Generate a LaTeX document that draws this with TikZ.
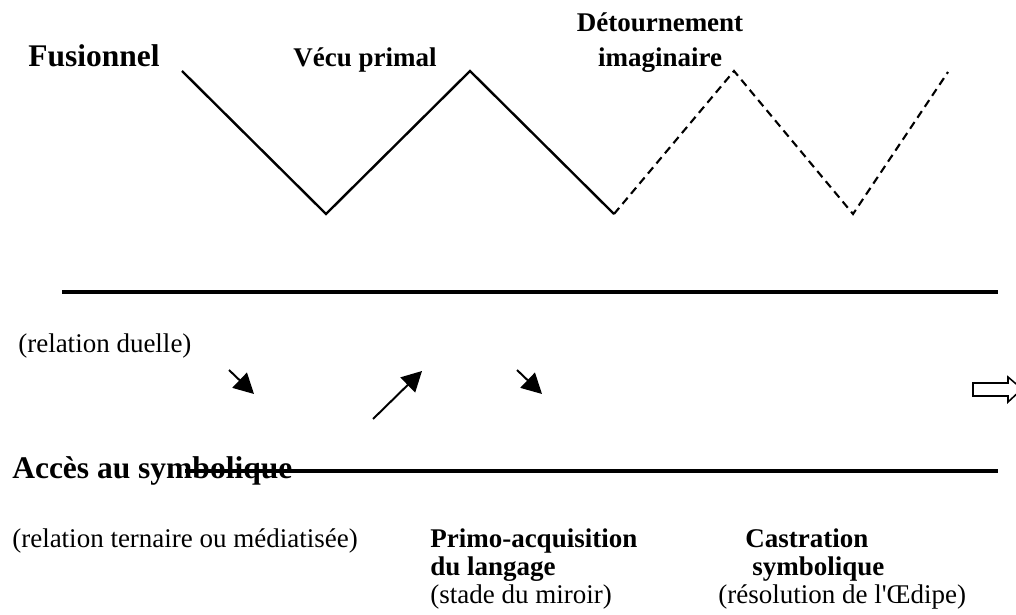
\documentclass[tikz,border=0pt]{standalone}
\usepackage{fontspec}
\setmainfont{Liberation Serif}
\usetikzlibrary{arrows.meta}

\tikzset{
    label/.style={anchor=base west,inner sep=0,font=\fontsize{19.2}{23}\selectfont},
    boldlabel/.style={label,font=\fontsize{19.2}{23}\selectfont\bfseries},
    title/.style={label,font=\fontsize{22.4}{27}\selectfont\bfseries},
    pointer/.style={line width=1.4pt,-{Triangle[length=0.5cm,width=0.52cm]}},
}

\begin{document}
\begin{tikzpicture}[x=0.025cm,y=-0.025cm]
\useasboundingbox (0,0) rectangle (1016,615);

%zigzag
\draw[line width=1.7pt] (182,71) -- (326,214) -- (470,71) -- (614,214);
\draw[line width=1.5pt,dash pattern=on 0.2cm off 0.13cm] (614,214) -- (734,71) -- (853,214) -- (948,72);

%levels
\draw[line width=2.7pt] (62,292) -- (998,292);

%top labels
\node[title] at (28,67)(fusion){Fusionnel};
\node[boldlabel] at (293,67)(vecu){Vécu primal};
\node[boldlabel,anchor=base] at (660,32)(detour){Détournement};
\node[boldlabel,anchor=base] at (660,67)(imag){imaginaire};

\node[label] at (18,353)(duelle){(relation duelle)};

%arrows
\foreach \n/\xa/\ya/\xb/\yb in {1/229/370/254/394,2/373/419/422/371,3/517/370/542/394}{
    \coordinate (s\n) at (\xa,\ya);
    \coordinate (e\n) at (\xb,\yb);
    \draw[pointer] (s\n) -- (e\n);
}
\draw[line width=1.1pt,fill=white] (973,383) -- (1008,383) -- (1008,377) -- (1022,389) -- (1008,402) -- (1008,396) -- (973,396) -- cycle;

%bottom labels
\node[title] at (12,478)(acces){Accès au symbolique};
\draw[line width=2.7pt] (185,471) -- (998,471);
\node[label] at (12,547)(ternaire){(relation ternaire ou médiatisée)};

\foreach \x/\y/\t/\n in {430/547/Primo-acquisition/primo,430/575/du langage/langage,745/547/Castration/castr,752/575/symbolique/symb}{
    \node[boldlabel] at (\x,\y)(\n){\t};
}
\node[label] at (430,603)(miroir){(stade du miroir)};
\node[label] at (718,603)(oedipe){(résolution de l\textquotesingle Œdipe)};

\end{tikzpicture}
\end{document}
